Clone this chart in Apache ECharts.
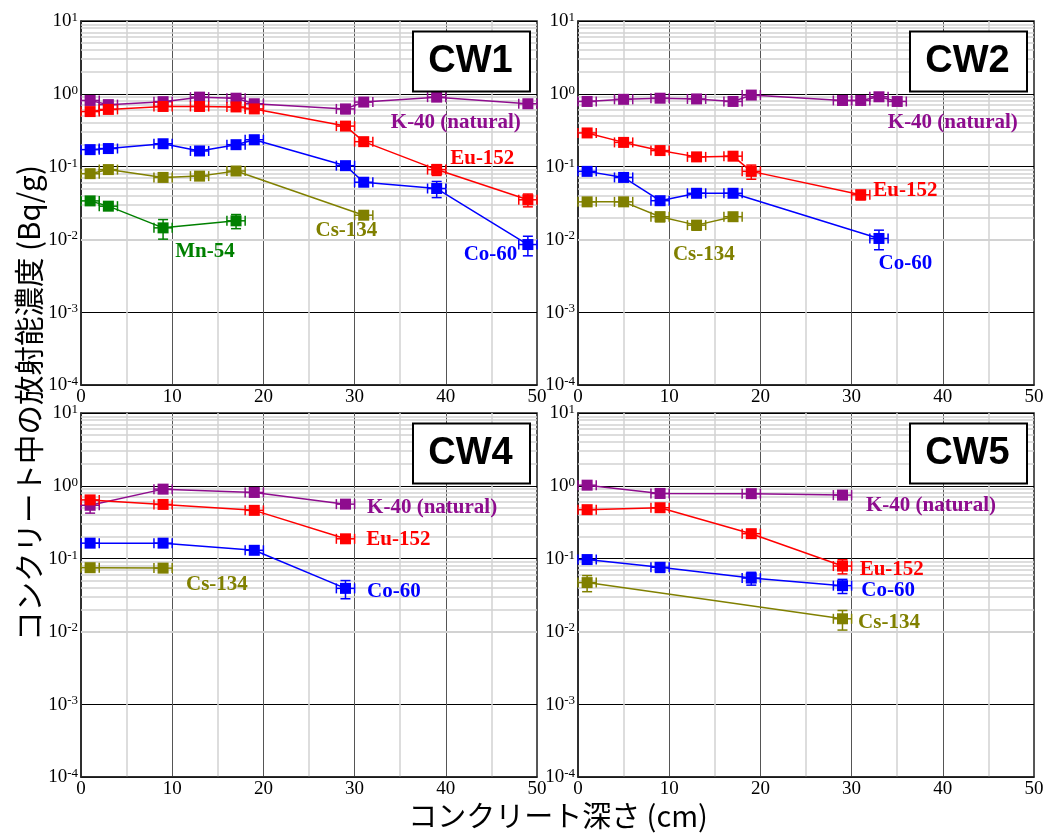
<!DOCTYPE html>
<html>
<head>
<meta charset="utf-8">
<script src="https://cdn.jsdelivr.net/npm/echarts@6/dist/echarts.min.js"></script>
<style>
  html, body { margin: 0; padding: 0; background: #fff; }
  #chart { width: 1050px; height: 834px; }
</style>
</head>
<body>
<div id="chart"></div>
<script>
// ---------------- DATA ----------------
const panelNames = ['CW1', 'CW2', 'CW4', 'CW5'];
const nuclideNames = ['K-40 (natural)', 'Eu-152', 'Co-60', 'Cs-134', 'Mn-54'];
const xTicks = [0, 10, 20, 30, 40, 50];
const depthError = 1; // cm, horizontal error bar half-width

// CW1
const cw1K40Depth = [1, 3, 9, 13, 17, 19, 29, 31, 39, 49];
const cw1K40 = [0.81, 0.71, 0.78, 0.90, 0.87, 0.73, 0.62, 0.77, 0.90, 0.73];
const cw1K40Err = [0.06, 0.06, 0.06, 0.07, 0.07, 0.06, 0.14, 0.06, 0.07, 0.06];
const cw1Eu152Depth = [1, 3, 9, 13, 17, 19, 29, 31, 39, 49];
const cw1Eu152 = [0.57, 0.61, 0.67, 0.67, 0.66, 0.62, 0.36, 0.22, 0.091, 0.035];
const cw1Eu152Err = [0.06, 0.06, 0.06, 0.06, 0.06, 0.06, 0.06, 0.07, 0.17, 0.2];
const cw1Co60Depth = [1, 3, 9, 13, 17, 19, 29, 31, 39, 49];
const cw1Co60 = [0.171, 0.177, 0.206, 0.164, 0.20, 0.234, 0.103, 0.061, 0.050, 0.0085];
const cw1Co60Err = [0.06, 0.06, 0.07, 0.07, 0.07, 0.07, 0.1, 0.08, 0.25, 0.3];
const cw1Cs134Depth = [1, 3, 9, 13, 17, 31];
const cw1Cs134 = [0.080, 0.091, 0.071, 0.074, 0.087, 0.0215];
const cw1Cs134Err = [0.07, 0.07, 0.07, 0.07, 0.07, 0.1];
const cw1Mn54Depth = [1, 3, 9, 17];
const cw1Mn54 = [0.0338, 0.0286, 0.0144, 0.018];
const cw1Mn54Err = [0.08, 0.08, 0.3, 0.22];

// CW2
const cw2K40Depth = [1, 5, 9, 13, 17, 19, 29, 31, 33, 35];
const cw2K40 = [0.785, 0.84, 0.87, 0.85, 0.785, 0.96, 0.81, 0.81, 0.91, 0.785];
const cw2K40Err = [0.05, 0.06, 0.06, 0.06, 0.06, 0.07, 0.12, 0.06, 0.07, 0.06];
const cw2Eu152Depth = [1, 5, 9, 13, 17, 19, 31];
const cw2Eu152 = [0.29, 0.215, 0.166, 0.136, 0.139, 0.086, 0.041];
const cw2Eu152Err = [0.06, 0.07, 0.07, 0.07, 0.07, 0.22, 0.15];
const cw2Co60Depth = [1, 5, 9, 13, 17, 33];
const cw2Co60 = [0.086, 0.071, 0.034, 0.043, 0.043, 0.0103];
const cw2Co60Err = [0.07, 0.07, 0.1, 0.08, 0.08, 0.3];
const cw2Cs134Depth = [1, 5, 9, 13, 17];
const cw2Cs134 = [0.0328, 0.0328, 0.0205, 0.0157, 0.0205];
const cw2Cs134Err = [0.08, 0.08, 0.15, 0.15, 0.1];

// CW4
const cw4K40Depth = [1, 9, 19, 29];
const cw4K40 = [0.54, 0.90, 0.81, 0.56];
const cw4K40Err = [0.22, 0.08, 0.1, 0.12];
const cw4Eu152Depth = [1, 9, 19, 29];
const cw4Eu152 = [0.64, 0.555, 0.46, 0.187];
const cw4Eu152Err = [0.06, 0.06, 0.06, 0.06];
const cw4Co60Depth = [1, 9, 19, 29];
const cw4Co60 = [0.163, 0.163, 0.13, 0.039];
const cw4Co60Err = [0.06, 0.06, 0.07, 0.28];
const cw4Cs134Depth = [1, 9];
const cw4Cs134 = [0.075, 0.074];
const cw4Cs134Err = [0.1, 0.1];

// CW5
const cw5K40Depth = [1, 9, 19, 29];
const cw5K40 = [1.02, 0.785, 0.78, 0.745];
const cw5K40Err = [0.06, 0.12, 0.12, 0.12];
const cw5Eu152Depth = [1, 9, 19, 29];
const cw5Eu152 = [0.47, 0.50, 0.22, 0.079];
const cw5Eu152Err = [0.06, 0.06, 0.06, 0.22];
const cw5Co60Depth = [1, 9, 19, 29];
const cw5Co60 = [0.097, 0.076, 0.054, 0.0425];
const cw5Co60Err = [0.1, 0.15, 0.2, 0.22];
const cw5Cs134Depth = [1, 29];
const cw5Cs134 = [0.0468, 0.0149];
const cw5Cs134Err = [0.25, 0.3];

// ---------------- STYLE / LAYOUT ----------------
const COLORS = {
  'K-40 (natural)': '#8E0C8E',
  'Eu-152': '#FF0000',
  'Co-60': '#0000FF',
  'Cs-134': '#808000',
  'Mn-54': '#008000'
};
const SERIF = '"Liberation Serif", "Times New Roman", serif';
const SANS = '"Liberation Sans", Arial, sans-serif';
const CJK = '"Noto Sans CJK JP", "Noto Sans", sans-serif';
const MARKER = 11;

const grids = [
  { left: 81, top: 21, width: 456, height: 364 },
  { left: 578, top: 21, width: 456, height: 364 },
  { left: 81, top: 413, width: 456, height: 364 },
  { left: 578, top: 413, width: 456, height: 364 }
];

// series per panel: [name, depths, values, relErr]
const panelSeries = [
  [
    ['K-40 (natural)', cw1K40Depth, cw1K40, cw1K40Err],
    ['Eu-152', cw1Eu152Depth, cw1Eu152, cw1Eu152Err],
    ['Co-60', cw1Co60Depth, cw1Co60, cw1Co60Err],
    ['Cs-134', cw1Cs134Depth, cw1Cs134, cw1Cs134Err],
    ['Mn-54', cw1Mn54Depth, cw1Mn54, cw1Mn54Err]
  ],
  [
    ['K-40 (natural)', cw2K40Depth, cw2K40, cw2K40Err],
    ['Eu-152', cw2Eu152Depth, cw2Eu152, cw2Eu152Err],
    ['Co-60', cw2Co60Depth, cw2Co60, cw2Co60Err],
    ['Cs-134', cw2Cs134Depth, cw2Cs134, cw2Cs134Err]
  ],
  [
    ['K-40 (natural)', cw4K40Depth, cw4K40, cw4K40Err],
    ['Eu-152', cw4Eu152Depth, cw4Eu152, cw4Eu152Err],
    ['Co-60', cw4Co60Depth, cw4Co60, cw4Co60Err],
    ['Cs-134', cw4Cs134Depth, cw4Cs134, cw4Cs134Err]
  ],
  [
    ['K-40 (natural)', cw5K40Depth, cw5K40, cw5K40Err],
    ['Eu-152', cw5Eu152Depth, cw5Eu152, cw5Eu152Err],
    ['Co-60', cw5Co60Depth, cw5Co60, cw5Co60Err],
    ['Cs-134', cw5Cs134Depth, cw5Cs134, cw5Cs134Err]
  ]
];

// annotation anchor points (data coordinates) for the nuclide labels
const labelAnchors = [
  { 'K-40 (natural)': [41.1, 0.40], 'Eu-152': [44, 0.128], 'Co-60': [44.9, 0.0061], 'Cs-134': [29.1, 0.0133], 'Mn-54': [13.6, 0.0067] },
  { 'K-40 (natural)': [41.1, 0.40], 'Eu-152': [35.9, 0.047], 'Co-60': [35.9, 0.0047], 'Cs-134': [13.8, 0.0062] },
  { 'K-40 (natural)': [38.5, 0.50], 'Eu-152': [34.8, 0.185], 'Co-60': [34.3, 0.0348], 'Cs-134': [14.9, 0.0443] },
  { 'K-40 (natural)': [38.7, 0.53], 'Eu-152': [34.4, 0.0713], 'Co-60': [34.0, 0.0359], 'Cs-134': [34.1, 0.0134] }
];

// minor log grid lines (2..9 x decade)
const minorLogLines = [];
for (let e = -4; e < 1; e++) {
  for (let m = 2; m <= 9; m++) minorLogLines.push(m * Math.pow(10, e));
}

function yLabel(v) {
  const e = Math.round(Math.log10(v));
  return '{b|10}{e|' + e + '}';
}

const xAxes = [], yAxes = [], series = [], graphics = [];

grids.forEach((g, i) => {
  xAxes.push({
    type: 'value', gridIndex: i, min: 0, max: 50, interval: 10, z: 0,
    axisLine: { show: true, lineStyle: { color: '#222', width: 1.5 } },
    axisTick: { show: false },
    minorTick: { show: false, splitNumber: 2 },
    axisLabel: { color: '#000', fontFamily: SERIF, fontSize: 19, margin: 3 },
    splitLine: { show: true, lineStyle: { color: '#555', width: 1 } },
    minorSplitLine: { show: true, lineStyle: { color: '#d2d2d2', width: 1.5 } }
  });
  yAxes.push({
    type: 'log', logBase: 10, gridIndex: i, min: 1e-4, max: 10, splitNumber: 5, z: 0,
    axisLine: { show: true, lineStyle: { color: '#222', width: 1.5 } },
    axisTick: { show: false },
    axisLabel: {
      margin: 3, formatter: yLabel,
      rich: {
        b: { fontFamily: SERIF, fontSize: 19, color: '#000', lineHeight: 20, verticalAlign: 'bottom' },
        e: { fontFamily: SERIF, fontSize: 13, color: '#000', lineHeight: 20, verticalAlign: 'top', padding: [0, 0, 8, 0] }
      }
    },
    splitLine: { show: true, lineStyle: { color: '#000', width: 1 } }
  });

  // minor horizontal grid lines (kept beneath the data)
  series.push({
    type: 'line', xAxisIndex: i, yAxisIndex: i, data: [], z: 1, silent: true,
    markLine: {
      z: 1, silent: true, symbol: ['none', 'none'], animation: false,
      label: { show: false },
      lineStyle: { color: '#d2d2d2', width: 1.5, type: 'solid' },
      data: minorLogLines.map(v => ({ yAxis: v }))
    }
  });

  panelSeries[i].forEach(([name, depths, vals, errs]) => {
    const color = COLORS[name];
    const anchor = labelAnchors[i][name];
    // connecting line + label
    series.push({
      type: 'line', name: name, xAxisIndex: i, yAxisIndex: i, z: 3,
      data: depths.map((d, k) => [d, vals[k]]),
      symbol: 'none',
      lineStyle: { color: color, width: 1.5 },
      emphasis: { disabled: true },
      markPoint: {
        z: 6, silent: true, animation: false, symbol: 'circle', symbolSize: 0,
        data: [{ coord: anchor }],
        label: {
          show: true, position: 'inside', formatter: name, color: color,
          fontFamily: SERIF, fontWeight: 'bold', fontSize: 21
        }
      }
    });
    // error bars + square markers
    series.push({
      type: 'custom', xAxisIndex: i, yAxisIndex: i, z: 4, silent: true,
      data: depths.map((d, k) => [d, vals[k], vals[k] * (1 - errs[k]), vals[k] * (1 + errs[k]), d - depthError, d + depthError]),
      encode: { x: 0, y: 1 },
      renderItem: function (params, api) {
        const x = api.value(0), y = api.value(1);
        const lo = api.value(2), hi = api.value(3), xl = api.value(4), xh = api.value(5);
        const c = api.coord([x, y]);
        const l = api.coord([xl, y]), r = api.coord([xh, y]);
        const t = api.coord([x, hi]), b = api.coord([x, lo]);
        const cap = 5;
        const st = { stroke: color, lineWidth: 1.5, fill: null };
        return {
          type: 'group',
          children: [
            { type: 'line', shape: { x1: l[0], y1: l[1], x2: r[0], y2: r[1] }, style: st },
            { type: 'line', shape: { x1: l[0], y1: l[1] - cap, x2: l[0], y2: l[1] + cap }, style: st },
            { type: 'line', shape: { x1: r[0], y1: r[1] - cap, x2: r[0], y2: r[1] + cap }, style: st },
            { type: 'line', shape: { x1: t[0], y1: t[1], x2: b[0], y2: b[1] }, style: st },
            { type: 'line', shape: { x1: t[0] - cap, y1: t[1], x2: t[0] + cap, y2: t[1] }, style: st },
            { type: 'line', shape: { x1: b[0] - cap, y1: b[1], x2: b[0] + cap, y2: b[1] }, style: st },
            { type: 'rect', shape: { x: c[0] - MARKER / 2, y: c[1] - MARKER / 2, width: MARKER, height: MARKER }, style: { fill: color, stroke: null } }
          ]
        };
      }
    });
  });

  // panel title box
  graphics.push({
    type: 'rect', left: g.left + 331, top: g.top + 9.5, z: 10,
    shape: { width: 117, height: 60 },
    style: { fill: '#fff', stroke: '#000', lineWidth: 2 }
  });
  graphics.push({
    type: 'text', x: g.left + 331 + 58.5, y: g.top + 9.5 + 31, z: 11,
    style: {
      text: panelNames[i], fontFamily: SANS, fontWeight: 'bold', fontSize: 38,
      fill: '#000', stroke: null, lineWidth: 0, textAlign: 'center', textVerticalAlign: 'middle'
    }
  });
});

graphics.push({
  type: 'text', x: 29, y: 403, rotation: Math.PI / 2, z: 10,
  style: { text: 'コンクリート中の放射能濃度 (Bq/g)', fontFamily: CJK, fontSize: 29.5, fill: '#000', stroke: null, textAlign: 'center', textVerticalAlign: 'middle' }
});
graphics.push({
  type: 'text', x: 558, y: 816, z: 10,
  style: { text: 'コンクリート深さ (cm)', fontFamily: CJK, fontSize: 29, fill: '#000', stroke: null, textAlign: 'center', textVerticalAlign: 'middle' }
});

const chart = echarts.init(document.getElementById('chart'), null, { renderer: 'canvas' });
chart.setOption({
  animation: false,
  backgroundColor: '#fff',
  grid: grids.map(g => Object.assign({ show: true, borderColor: '#222', borderWidth: 1.5, backgroundColor: 'transparent' }, g)),
  xAxis: xAxes,
  yAxis: yAxes,
  series: series,
  graphic: graphics
});
</script>
</body>
</html>
